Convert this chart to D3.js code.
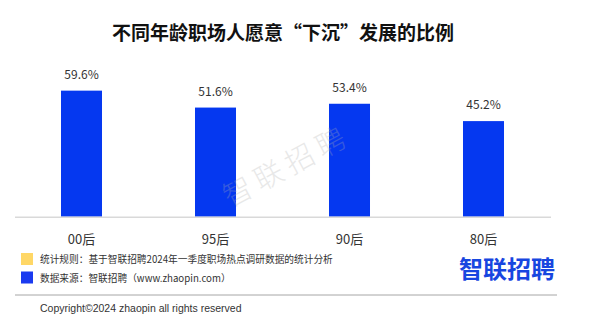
<!DOCTYPE html>
<html><head><meta charset="utf-8">
<script src="https://cdn.jsdelivr.net/npm/d3@7"></script>
<style>
html,body{margin:0;padding:0;background:#fff;}
svg{display:block;font-family:"Noto Sans CJK SC","Noto Sans",sans-serif;}
</style></head>
<body><svg id="c" width="611" height="322"></svg>
<script>
const categories = ["00后","95后","90后","80后"];
const values = [59.6, 51.6, 53.4, 45.2];
const valueLabels = ["59.6%","51.6%","53.4%","45.2%"];
const titleText = "不同年龄职场人愿意“下沉”发展的比例";
const legendItems = ["统计规则：基于智联招聘2024年一季度职场热点调研数据的统计分析","数据来源：智联招聘（www.zhaopin.com）"];
const legendColors = ["#ffd766","#1a3af0"];
const brand = "智联招聘";
const copyright = "Copyright©2024 zhaopin all rights reserved";

const svg = d3.select("#c");
const x = d3.scaleBand().domain(categories).range([14.5, 550.5]).paddingInner(0.694).paddingOuter(0.347);
const y = d3.scaleLinear().domain([0, 60]).range([216.7, 89.8]);

// title
svg.append("text").attr("x", 283).attr("y", 40).attr("text-anchor","middle")
  .attr("font-size", 19).attr("font-weight", 700).attr("fill", "#111").text(titleText);

// bars
svg.selectAll("rect.bar").data(values).join("rect").attr("class","bar")
  .attr("x",(d,i)=>x(categories[i])).attr("width",x.bandwidth())
  .attr("y",d=>y(d)).attr("height",d=>y(0)-y(d)).attr("fill","#0538f0");

// watermark
svg.append("text").attr("transform","translate(288,168) rotate(-28)")
  .attr("text-anchor","middle").attr("dominant-baseline","middle")
  .attr("font-size", 29).attr("font-weight", 300).attr("letter-spacing", 6).attr("fill","#b0b0b0").attr("opacity",0.28).text(brand);

// axis
const ax = svg.append("g").attr("transform",`translate(0,${y(0)})`)
  .call(d3.axisBottom(x).tickSize(0).tickPadding(0));
ax.select(".domain").attr("stroke","#d9d9d9").attr("stroke-width",1.5);
ax.selectAll("text").attr("font-size",13).attr("fill","#333").attr("dy",0).attr("y",27)
  .attr("font-family",'"Noto Sans CJK SC","Noto Sans",sans-serif');

// value labels
svg.selectAll("text.val").data(values).join("text").attr("class","val")
  .attr("x",(d,i)=>x(categories[i])+x.bandwidth()/2).attr("y",d=>y(d)-12)
  .attr("text-anchor","middle").attr("font-size",12).attr("fill","#333")
  .text((d,i)=>valueLabels[i]);

// legend
legendItems.forEach((t,i)=>{
  const yy = 253 + i*18.5;
  svg.append("rect").attr("x",21).attr("y",yy).attr("width",12).attr("height",12).attr("fill",legendColors[i]);
  svg.append("text").attr("x",40).attr("y",yy+10).attr("font-size",9.7).attr("fill","#333").text(t);
});

// brand logo
svg.append("text").attr("x",459).attr("y",278).attr("font-size",24).attr("font-weight",700)
  .attr("fill","#1746e0").text(brand);

// separator
svg.append("line").attr("x1",15).attr("x2",557).attr("y1",295).attr("y2",295)
  .attr("stroke","#a6a6a6").attr("stroke-width",1);

svg.append("text").attr("x",40).attr("y",312).attr("font-size",10.5).attr("fill","#333")
  .attr("font-family","Liberation Sans, Arial, sans-serif").text(copyright);
</script></body></html>
